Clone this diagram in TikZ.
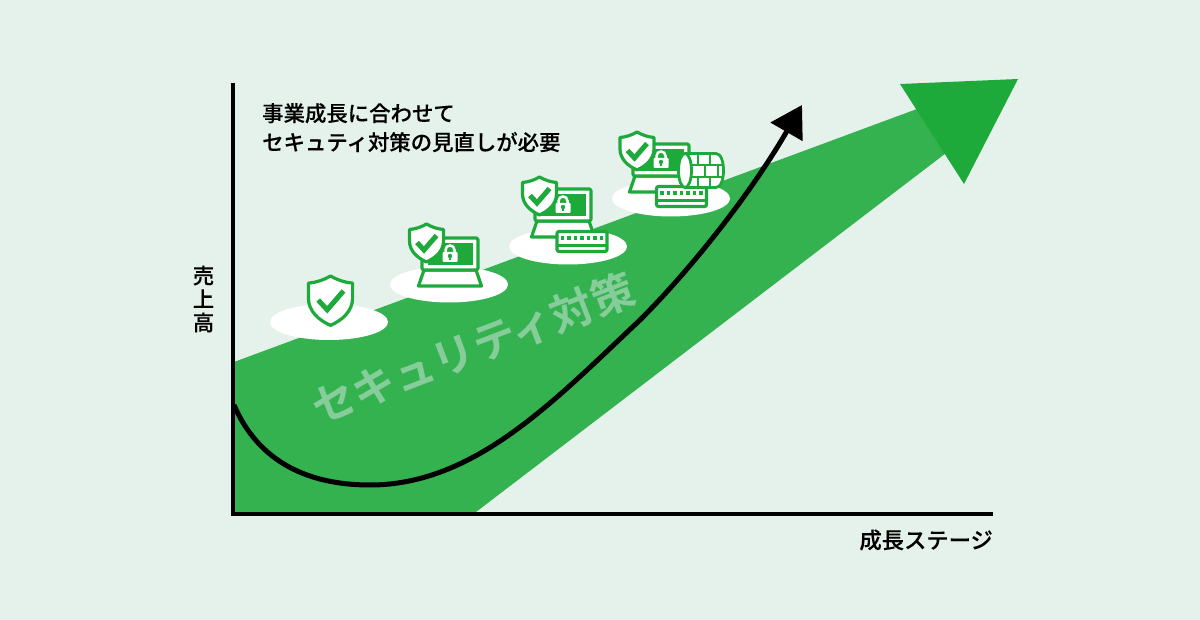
\documentclass[tikz,border=0pt]{standalone}
\usepackage{fontspec}
\usetikzlibrary{arrows.meta}
\newfontfamily\jpfont{Noto Sans CJK JP Medium}[FakeBold=0.15]
\newfontfamily\jpbold{Noto Sans CJK JP Bold}
\definecolor{bgmint}{HTML}{E5F2EC}
\definecolor{bandgreen}{HTML}{34B24F}
\definecolor{headgreen}{HTML}{1EAA3B}
\definecolor{markgreen}{HTML}{86CD9A}
\tikzset{
  label/.style={font=\jpfont\fontsize{21.4}{29}\selectfont,text=black,inner sep=0pt},
  outline/.style={draw=headgreen,fill=white,line width=3.2pt,line join=round},
  shieldpic/.pic={
    \path[outline] (0,0) .. controls (5,3) and (11,5) .. (17,5.5) -- (17,17)
      .. controls (17,27) and (9,34) .. (0,38)
      .. controls (-9,34) and (-17,27) .. (-17,17) -- (-17,5.5)
      .. controls (-11,5) and (-5,3) .. cycle;
    \draw[headgreen,line width=5pt,line join=miter]
      (-9.5,18.5) -- (-2.5,26) -- (10,11.5);
  },
  laptoppic/.pic={
    \path[outline] (-26,16) -- (26,16) -- (31.5,32) -- (-31.5,32) -- cycle;
    \path[outline,rounded corners=2pt] (-28,-16) rectangle (28,16);
    \fill[headgreen] (-22,-11) rectangle (23,11);
    % lock
    \draw[white,line width=2.5pt] (-4.5,-1) -- (-4.5,-4) .. controls (-4.5,-10) and (4.5,-10) .. (4.5,-4) -- (4.5,-1);
    \fill[white,rounded corners=1pt] (-7.5,-2) rectangle (7.5,8);
    \fill[headgreen] (-1.2,1) rectangle (1.2,6);
    \fill[headgreen] (0,2) circle (2.2);
  },
  keyboardpic/.pic={
    \path[outline,rounded corners=2pt] (-25,-10) rectangle (25,10);
    \foreach \xpos in {-19.5,-13,-6.5,0,6.5,13,19.5}
      \fill[headgreen] (\xpos-1.7,-5.2) rectangle (\xpos+1.7,-1.8);
    \draw[headgreen,line width=3pt] (-25,4.5) -- (25,4.5);
  },
  firewallpic/.pic={
    \path[outline,line width=2.8pt] (0,-17) -- (31,-17) .. controls (41,-17) and (41,17) .. (31,17) -- (0,17) -- cycle;
    % bricks
    \draw[headgreen,line width=2.8pt] (0,-5.5) -- (38,-5.5) (0,6.5) -- (38,6.5)
      (13,-17) -- (13,-5.5) (25,-17) -- (25,-5.5)
      (20,-5.5) -- (20,6.5) (33,-5.5) -- (33,6.5)
      (13,6.5) -- (13,17) (25,6.5) -- (25,17);
    \path[outline,line width=2.8pt] (0,0) ellipse (6.5 and 17);
  }
}

\begin{document}
\begin{tikzpicture}[x=1pt,y=-1pt]
    \useasboundingbox[fill=bgmint] (0,0) rectangle (1200,620);
    % growth band and its head
    \fill[bandgreen] (234,362) -- (925,106) -- (950,150) -- (476,512) -- (234,512) -- cycle;
    \fill[headgreen] (900,84) -- (1018,79) -- (964,184) -- cycle;
    \node[rotate=21,text=markgreen,inner sep=0pt,font=\jpbold\fontsize{43}{43}\selectfont] (markText) at (473,348) {セキュリティ対策};
    % axes
    \coordinate (axisTop) at (233,83);
    \coordinate (axisOrigin) at (233,514);
    \coordinate (axisEnd) at (993,514);
    \draw[black,line width=4pt] (axisTop) -- (axisOrigin) -- (axisEnd);
    % sales curve
    \coordinate (curveStart) at (234,405);
    \coordinate (curveLow) at (370,485);
    \coordinate (curveMid) at (640,320);
    \coordinate (curveEnd) at (802,105);
    \draw[black,line width=5pt,-{Triangle[length=31pt,width=36pt]}] (curveStart)
      .. controls (262,470) and (320,485) .. (curveLow)
      .. controls (475,485) and (555,400) .. (curveMid)
      .. controls (690,270) and (750,195) .. (curveEnd);
    % stages
    \foreach \xpos/\ypos in {329/322,449/284.5,568/246.5,671/198.5}
      \fill[white] (\xpos,\ypos) ellipse (59 and 18);
    \pic[scale=1.3] at (330.5,276) {shieldpic};
    \pic at (450,254) {laptoppic};
    \pic at (426.5,224) {shieldpic};
    \pic at (563,205) {laptoppic};
    \pic at (582,241.5) {keyboardpic};
    \pic at (539.5,177) {shieldpic};
    \pic at (661,160) {laptoppic};
    \pic at (681.5,196.5) {keyboardpic};
    \pic at (685,170.5) {firewallpic};
    \pic at (637,132) {shieldpic};
    % labels
    \node[label,align=left,anchor=north west] (noteText) at (262,103) {事業成長に合わせて\\セキュティ対策の見直しが必要};
    \node[label,align=center,font=\jpfont\fontsize{21.4}{23.5}\selectfont] (yLabel) at (203.5,299) {売\\上\\高};
    \node[label,anchor=east,font=\jpfont\fontsize{22.3}{29}\selectfont] (xLabel) at (993,540) {成長ステージ};
\end{tikzpicture}
\end{document}
